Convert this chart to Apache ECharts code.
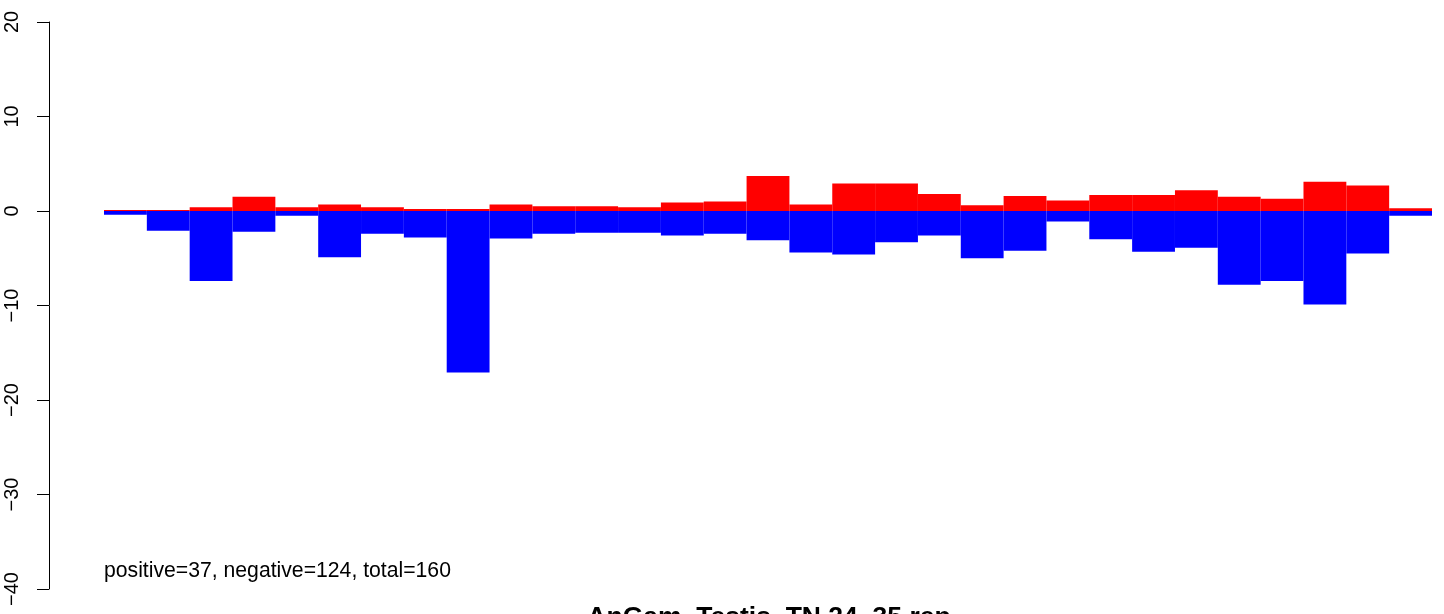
<!DOCTYPE html>
<html>
<head>
<meta charset="utf-8">
<script src="https://cdn.jsdelivr.net/npm/echarts@6/dist/echarts.min.js"></script>
<style>
html,body{margin:0;padding:0;background:#fff;}
#chart{width:1444px;height:614px;}
</style>
</head>
<body>
<div id="chart"></div>
<script>
var categories = [];
for (var i = 1; i <= 31; i++) categories.push('B' + i);
var positiveValues = [0.1,0.1,0.4,1.5,0.4,0.7,0.4,0.2,0.2,0.7,0.5,0.5,0.4,0.9,1.0,3.7,0.7,2.9,2.9,1.8,0.6,1.6,1.1,1.7,1.7,2.2,1.5,1.3,3.1,2.7,0.3];
var negativeValues = [-0.4,-2.1,-7.4,-2.2,-0.5,-4.9,-2.4,-2.8,-17.1,-2.9,-2.4,-2.3,-2.3,-2.6,-2.4,-3.1,-4.4,-4.6,-3.3,-2.6,-5.0,-4.2,-1.1,-3.0,-4.3,-3.9,-7.8,-7.4,-9.9,-4.5,-0.5];
var yTicks = [-40,-30,-20,-10,0,10,20];
var titleText = 'AnGam_Testis_TN.24_35.rep';
var noteText = 'positive=37, negative=124, total=160';

var font = '"Liberation Sans", Arial, Helvetica, sans-serif';
var chart = echarts.init(document.getElementById('chart'));
chart.setOption({
  animation: false,
  backgroundColor: '#ffffff',
  grid: {left: 104, right: 12, top: 22, bottom: 25, containLabel: false},
  xAxis: {
    type: 'category', data: categories, boundaryGap: true,
    show: false
  },
  yAxis: {
    type: 'value', min: yTicks[0], max: yTicks[yTicks.length-1], interval: 10,
    offset: 55,
    splitLine: {show: false},
    axisLine: {show: true, lineStyle: {color: '#000', width: 1}},
    axisTick: {show: true, length: 12, lineStyle: {color: '#000', width: 1}},
    axisLabel: {show: true, rotate: 90, margin: 27, color: '#000', fontSize: 20, fontFamily: font,
      formatter: function (v) { return String(v).replace('-', '\u2212'); }}
  },
  series: [
    {type: 'bar', data: positiveValues, barWidth: '100%', barGap: '-100%',
     itemStyle: {color: '#ff0000'}, silent: true},
    {type: 'bar', data: negativeValues, barWidth: '100%', barGap: '-100%',
     itemStyle: {color: '#0000ff'}, silent: true}
  ],
  graphic: [
    {type: 'text', left: 104, top: 561, style: {text: noteText, font: '21.2px ' + font, fill: '#000'}},
    {type: 'text', x: 769, y: 604, style: {text: titleText, font: 'bold 26.5px ' + font, fill: '#000', align: 'center', verticalAlign: 'top'}}
  ]
});
</script>
</body>
</html>
